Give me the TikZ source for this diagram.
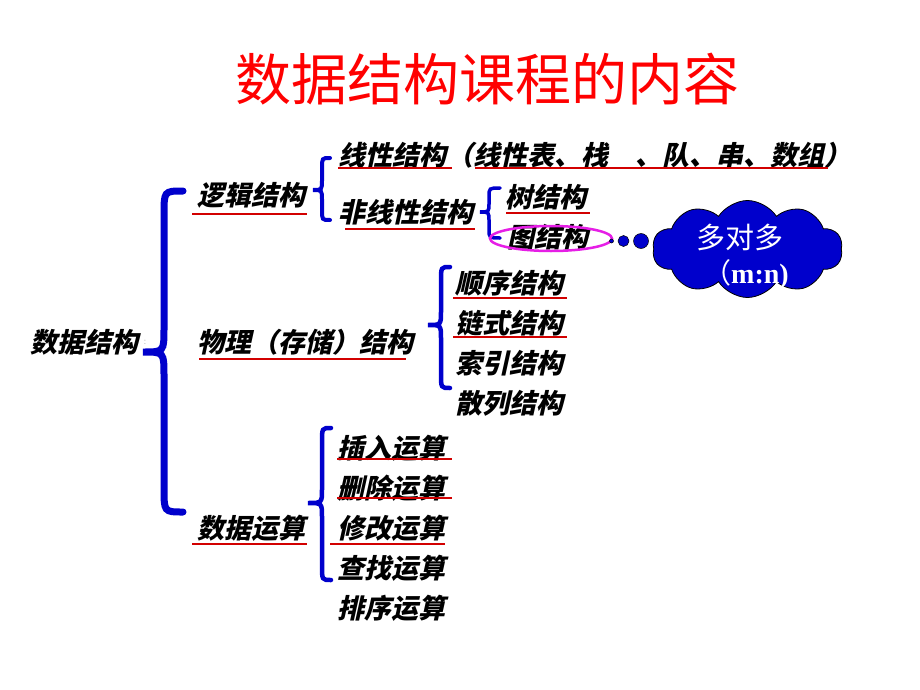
\documentclass[tikz,border=0pt]{standalone}
\usepackage{fontspec}
\usetikzlibrary{shapes.geometric,shapes.symbols}
\newfontfamily\cjk{Noto Sans CJK SC}
\newfontfamily\cjkbi[FakeSlant=0.22]{Noto Sans CJK SC}
\newfontfamily\serifbf{Liberation Serif}
\definecolor{bracec}{RGB}{0,0,204}
\definecolor{ulred}{RGB}{210,0,0}
\definecolor{titred}{RGB}{255,0,0}
\definecolor{ellc}{RGB}{230,30,230}
% #1 end x, #2 vertical x, #3 tip x, #4 top y, #5 tip y, #6 bottom y, #7 corner, #8 line width
\newcommand\drawcbrace[8]{%
  \draw[bracec, line width=#8, line cap=round]
    (#1,#4) .. controls (#2,#4) .. (#2,#4+#7) -- (#2,#5-#7)
    .. controls (#2,#5) .. (#3,#5) .. controls (#2,#5) .. (#2,#5+#7)
    -- (#2,#6-#7) .. controls (#2,#6) .. (#1,#6);}
\begin{document}
\begin{tikzpicture}[x=1pt,y=-1pt,
  item/.style={anchor=west, inner sep=0pt, font=\cjkbi\bfseries\fontsize{27}{32}\selectfont, text=black},
  uline/.style={ulred, line width=2.6pt},
  dot/.style={circle, fill=bracec, draw=black, line width=0.5pt, inner sep=0pt}]
\fill[white] (0,0) rectangle (920,690);
\useasboundingbox (0,0) rectangle (920,690);

% title
\node[inner sep=0pt, text=titred, font=\cjk\fontsize{56}{60}\selectfont] (title) at (487,79) {数据结构课程的内容};

% braces
\drawcbrace{183}{164}{143}{191}{352}{512}{24}{7pt}
\drawcbrace{330}{322}{313}{158}{190}{220}{10}{4pt}
\drawcbrace{500}{489}{480}{188}{212}{238}{9}{3.5pt}
\drawcbrace{450}{441}{428}{267}{325}{388}{14}{4.5pt}
\drawcbrace{331}{322}{308}{428}{503}{580}{14}{4.5pt}

% root
\node[item] (root) at (30,342) {数据结构};
\node[anchor=west, inner sep=0pt, text=black!30, font=\fontsize{10}{12}\selectfont] (colon) at (143.5,342) {:};

% logical
\node[item] (log) at (197,195) {逻辑结构};
\node[item] (lin) at (338,155) {线性结构（线性表、栈　、队、串、数组）};
\node[item] (nonlin) at (338,212) {非线性结构};
\node[item] (tree) at (505,197) {树结构};
\node[item] (graph) at (507,237) {图结构};

% physical
\node[item] (phy) at (197,342) {物理（存储）结构};
\node[item] (seq) at (455,283) {顺序结构};
\node[item] (link) at (455,323) {链式结构};
\node[item] (idx) at (455,363) {索引结构};
\node[item] (hash) at (455,403) {散列结构};

% operations
\node[item] (ops) at (197,528) {数据运算};
\node[item] (ins) at (337,448) {插入运算};
\node[item] (del) at (337,488) {删除运算};
\node[item] (mod) at (337,528) {修改运算};
\node[item] (fnd) at (337,568) {查找运算};
\node[item] (srt) at (337,608) {排序运算};

% underlines
\draw[uline] (192,214) -- (307,214);
\draw[uline] (338,168) -- (452,168);
\draw[uline] (475,168) -- (828,168);
\draw[uline] (345,229) -- (475,229);
\draw[uline] (506,213) -- (590,213);
\draw[uline] (199,359) -- (406,359);
\draw[uline] (453,298) -- (567,298);
\draw[uline] (453,337) -- (567,337);
\draw[uline] (192,544) -- (307,544);
\draw[uline] (337,459) -- (452,459);
\draw[uline] (337,498) -- (452,498);
\draw[uline] (330,544) -- (445,544);

% ellipse around graph structure
\node[ellipse, draw=ellc, line width=2.5pt, minimum width=122pt, minimum height=25pt, inner sep=0pt] (ell) at (551,238.5) {};

% thought dots
\node[dot, minimum size=4pt] (d1) at (611.5,241) {};
\node[dot, minimum size=11pt] (d2) at (623.5,241) {};
\node[dot, minimum size=15pt] (d3) at (641,241) {};

% cloud
\node[cloud, cloud puffs=10, cloud puff arc=115, aspect=2, draw=black, line width=0.8pt, fill=bracec,
      minimum width=190pt, minimum height=97pt, inner sep=0pt] (cl) at (747.5,249) {};
\node[inner sep=0pt, text=white, font=\cjk\fontsize{29}{32}\selectfont] (mm) at (740,237) {多对多};
\node[inner sep=0pt, text=white, font=\fontsize{28}{32}\selectfont] (mn) at (746,274) {{\cjk （}{\serifbf\bfseries m:n)}};
\end{tikzpicture}
\end{document}
